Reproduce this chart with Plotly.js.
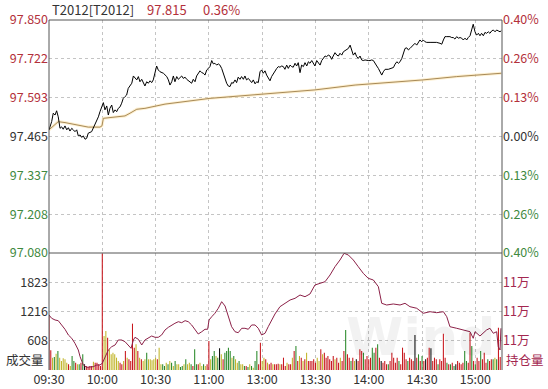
<!DOCTYPE html>
<html><head><meta charset="utf-8">
<script src="https://cdn.plot.ly/plotly-3.0.1.min.js"></script>
<style>html,body{margin:0;padding:0;background:#fff}#c{width:548px;height:389px}</style>
</head><body><div id="c"></div>
<script>
// ---- data ----
const symbol = 'T2012[T2012]';
const prevClose = 97.465;
const timeTickVals = [0,30,60,90,120,150,180,210,240];
const timeTickText = ['09:30','10:00','10:30','11:00','13:00','13:30','14:00','14:30','15:00'];
const priceTicks = [97.080,97.208,97.337,97.465,97.593,97.722,97.850];
const volTicks = [608,1216,1823];
const oiTicks = [113000,114000,115000];
const oiTickText = ['11万','11万','11万'];

const priceT = [0,1.5,2.4,3.4,4.3,5.2,6.2,7.1,8.0,9.0,
10.0,10.9,11.8,12.8,13.7,14.6,15.6,16.5,17.5,18.4,
19.3,20.3,21.2,22.1,24.0,24.9,25.9,26.9,27.8,28.7,
29.7,30.6,31.5,32.5,33.4,34.3,35.3,36.2,37.2,38.1,
39.0,40.0,40.9,41.8,42.8,43.7,44.6,45.6,46.6,47.5,
48.4,49.4,50.3,51.2,52.2,53.1,54.0,55.0,55.9,56.9,
57.8,58.7,59.7,60.6,61.5,62.5,64.4,66.3,67.2,68.1,
69.1,70.0,70.9,71.9,72.8,73.7,74.7,75.6,76.6,77.5,
79.4,80.3,81.2,82.2,83.1,84.0,85.0,86.0,86.9,87.8,
88.8,89.7,90.6,91.6,92.5,93.4,94.4,95.3,96.2,97.2,
98.1,99.1,100.0,100.9,101.9,102.8,103.7,104.7,105.6,106.5,
107.5,108.4,109.4,110.3,111.2,112.2,113.1,114.1,115.0,116.0,
116.9,117.8,118.8,119.7,120.6,121.6,122.5,123.4,124.4,125.3,
126.3,127.2,128.2,129.1,130.0,131.0,131.9,132.8,133.8,134.7,
135.7,136.6,137.5,138.5,139.4,140.3,141.3,142.2,143.2,144.1,
145.1,146.0,146.9,147.9,148.8,149.7,150.7,151.6,152.6,153.5,
154.4,155.4,156.3,157.2,158.2,159.1,160.0,161.0,162.0,162.9,
163.8,164.8,165.7,166.6,167.6,168.5,169.5,170.4,171.3,172.3,
173.2,174.1,175.1,176.0,176.9,177.9,178.8,179.7,180.7,181.7,
182.6,183.5,184.5,185.4,186.3,187.3,188.2,189.2,191.0,192.0,
193.9,194.8,195.8,196.7,197.6,198.6,199.5,200.4,201.4,202.3,
203.2,204.2,205.1,206.0,207.0,207.9,208.8,209.8,210.7,211.7,
212.6,214.5,216.3,218.2,220.1,221.1,222.0,222.9,223.9,225.7,
226.7,227.6,228.5,229.5,230.4,231.4,232.3,233.2,234.2,235.1,
236.0,237.0,237.9,238.8,239.8,240.7,241.7,242.6,243.5,244.5,
245.4,246.3,247.3,248.2,249.2,250.1,251.1,252.0,252.9,253.9,254.6];
const priceV = [97.487,97.514,97.542,97.536,97.550,97.530,97.492,97.497,97.489,97.500,
97.487,97.494,97.483,97.492,97.487,97.481,97.487,97.467,97.470,97.462,
97.467,97.456,97.459,97.476,97.481,97.492,97.503,97.514,97.530,97.547,
97.563,97.577,97.553,97.566,97.536,97.558,97.569,97.544,97.553,97.547,
97.558,97.563,97.575,97.591,97.597,97.602,97.624,97.635,97.641,97.665,
97.657,97.652,97.663,97.646,97.654,97.641,97.632,97.646,97.641,97.649,
97.643,97.652,97.679,97.698,97.685,97.679,97.674,97.663,97.652,97.635,
97.646,97.665,97.646,97.663,97.654,97.661,97.665,97.657,97.661,97.654,
97.646,97.641,97.654,97.646,97.665,97.674,97.682,97.676,97.674,97.668,
97.685,97.690,97.696,97.716,97.705,97.707,97.701,97.705,97.701,97.690,
97.674,97.652,97.641,97.632,97.630,97.643,97.641,97.652,97.643,97.661,
97.654,97.663,97.654,97.665,97.652,97.657,97.649,97.643,97.652,97.639,
97.646,97.643,97.679,97.685,97.674,97.682,97.668,97.657,97.649,97.663,
97.674,97.679,97.690,97.696,97.694,97.698,97.696,97.687,97.701,97.690,
97.701,97.696,97.694,97.707,97.698,97.709,97.676,97.701,97.696,97.709,
97.698,97.712,97.707,97.716,97.707,97.698,97.716,97.707,97.701,97.716,
97.723,97.731,97.729,97.734,97.731,97.720,97.731,97.742,97.734,97.731,
97.740,97.734,97.745,97.749,97.753,97.756,97.767,97.749,97.734,97.742,
97.729,97.723,97.731,97.718,97.716,97.718,97.716,97.716,97.716,97.718,
97.716,97.709,97.698,97.690,97.679,97.668,97.679,97.687,97.687,97.690,
97.693,97.704,97.712,97.707,97.712,97.723,97.743,97.756,97.758,97.751,
97.756,97.762,97.767,97.773,97.767,97.778,97.784,97.778,97.784,97.778,
97.776,97.776,97.776,97.776,97.773,97.770,97.784,97.795,97.795,97.795,
97.792,97.792,97.787,97.795,97.790,97.792,97.790,97.784,97.790,97.784,
97.792,97.798,97.817,97.836,97.811,97.800,97.806,97.798,97.806,97.798,
97.809,97.806,97.811,97.806,97.814,97.817,97.811,97.817,97.814,97.811,97.815];

const avgT = [0,5.2,9.0,16.5,22.1,28.7,29.8,30.6,35.3,42.8,45.6,49.4,54.0,59.7,65.3,90.6,118.8,149.7,172.3,210.5,229.5,240.7,254.6];
const avgV = [97.487,97.514,97.511,97.503,97.496,97.496,97.500,97.525,97.528,97.533,97.542,97.555,97.558,97.566,97.572,97.591,97.605,97.619,97.635,97.652,97.663,97.668,97.674];

const oiT = [0,1.5,3.4,5.2,7.1,9.0,10.9,12.8,14.6,16.5,
17.5,18.4,19.3,21.2,23.1,24.9,26.9,28.7,30.0,31.5,
33.4,35.3,37.2,39.0,40.9,42.8,44.6,46.2,47.5,48.4,
50.3,52.2,54.0,55.9,57.8,59.7,61.5,63.4,65.3,67.2,
69.1,70.9,72.8,74.7,76.6,78.4,80.3,82.2,84.0,86.0,
87.8,89.3,90.1,91.6,93.4,95.3,97.2,99.1,100.9,102.8,
104.7,106.5,108.5,110.3,112.2,114.1,116.0,117.8,119.7,121.6,
123.4,125.3,127.2,130.0,132.8,135.7,138.5,141.3,144.1,146.9,
149.7,152.6,155.4,158.2,161.0,163.8,166.1,168.5,171.3,174.1,
176.9,179.7,182.6,185.4,187.3,190.1,193.8,197.6,200.4,203.2,
207.0,210.7,214.5,218.2,222.0,223.9,225.7,229.5,233.2,237.0,
238.8,239.8,242.6,244.5,246.3,248.2,250.1,252.0,252.9,253.9,
254.4];
const oiV = [113880,113768,113710,113686,113539,113392,113197,113084,112913,112684,
112455,112284,112171,112092,112092,112113,112171,112171,112229,112455,
112684,112797,112855,113026,113026,112968,112855,112742,113026,113118,
113050,112855,113026,113084,113162,113118,113118,113197,113368,113460,
113539,113597,113651,113617,113686,113651,113539,113368,113231,113309,
113392,113392,113710,113822,113939,114110,114335,114188,113822,113480,
113309,113275,113426,113426,113392,113539,113539,113426,113197,113255,
113480,113686,113915,114164,114280,114393,114451,114564,114506,114598,
114906,114964,115019,115248,115532,115761,115990,115932,115761,115532,
115306,115135,115077,114848,114280,114222,114257,114222,114280,114164,
114110,113939,113993,113959,113993,113822,113480,113426,113368,113309,
113084,113309,113162,113255,113368,113426,113255,113309,112797,112684,
113426];

// per-minute volume, and trade kind: B = up (red), S = down (green), N = neutral (yellow), X = other (black)
const volume = [1150,409,256,270,340,395,256,187,243,222,
152,118,83,291,187,152,118,118,152,326,
118,83,62,83,83,173,152,152,118,83,
2420,707,811,672,430,326,360,326,256,187,
152,118,187,395,256,222,187,963,464,534,
395,256,222,187,222,360,222,222,201,222,
256,222,464,118,118,83,152,118,187,152,
83,187,118,118,62,83,118,222,118,152,
118,83,430,118,118,152,83,118,83,118,
603,222,291,395,291,256,450,326,222,360,
395,464,395,256,291,222,152,187,118,118,
83,83,62,118,83,49,187,395,118,568,
187,256,222,152,
118,152,118,118,118,132,118,118,256,83,
152,118,118,256,395,499,187,291,256,187,
222,360,187,187,187,222,152,256,187,430,
326,360,256,291,222,187,291,222,256,152,
256,187,395,832,326,256,187,256,187,222,
187,430,395,360,222,291,222,256,464,360,
464,534,256,187,152,187,118,118,187,360,
256,152,256,187,118,464,360,222,187,256,
222,187,727,256,326,187,291,187,222,256,
464,450,187,256,222,118,222,187,755,256,
152,118,118,152,83,118,187,152,118,152,
395,187,152,776,499,187,118,256,187,395,
222,360,152,222,187,222,222,256,222,880,270];
const tradeKind = ('BBNSNSNNNN'+'NBNSSBNSBS'+'XBBBBNBBBB'+'BNNBNNNNNN'+'BBNBNBBBBN'+
'BNBNNSNNNN'+'NBNNSSNSNS'+'NSNNSSNSNN'+'SBSSBNNSNB'+'BNSSNSXNBS'+'SSSNSNNSNN'+
'SBSNSNSSBB'+'NNBN'+
'BBNBBBNBBB'+'NBBNBSBNBN'+'BNBBBBBNNB'+'NBBBBBBNBB'+'NBBSBBSBNX'+'BBBSBBBBSS'+
'BSBXBBBSBB'+'BBBSBBBBSB'+'BBXBSBSBXB'+'BXBBBSBBBB'+'SBSBSXBBBB'+'SSBBSBSBBS'+
'BBBSBBSNSBB').split('');

// ---- drawing ----
const RED='#b3303a', GREEN='#3f8a3f', GRAY='#333333', OI='#a3274f';
const kindColor = {B:'#c8181e', S:'#2c8a2c', N:'#c2b62a', X:'#111111'};
const pct = v => Math.abs((v-prevClose)/prevClose*100).toFixed(2)+'%';
const sideOf = v => v>prevClose+1e-9 ? 'up' : (v<prevClose-1e-9 ? 'down' : 'flat');
const sideColor = {up:RED, down:GREEN, flat:GRAY};

const lastPrice = priceV[priceV.length-1];
const volIdx = volume.map((_,i)=>i);
const pRange = [priceTicks[0], priceTicks[priceTicks.length-1]];

const traces = [
  {type:'bar', x:volIdx, y:volume, xaxis:'x', yaxis:'y2', width:0.6,
   marker:{color:tradeKind.map(k=>kindColor[k]||kindColor.B), line:{width:0}}, hoverinfo:'skip'},
  {type:'scatter', mode:'lines', x:oiT, y:oiV, xaxis:'x', yaxis:'y4',
   line:{color:'#8c2148', width:1}, hoverinfo:'skip'},
  {type:'scatter', mode:'lines', x:avgT, y:avgV, xaxis:'x2', yaxis:'y',
   line:{color:'rgba(252,228,175,0.6)', width:3}, hoverinfo:'skip'},
  {type:'scatter', mode:'lines', x:avgT, y:avgV, xaxis:'x2', yaxis:'y',
   line:{color:'#a88a58', width:1}, hoverinfo:'skip'},
  {type:'scatter', mode:'lines', x:priceT, y:priceV, xaxis:'x2', yaxis:'y',
   line:{color:'#000000', width:1}, hoverinfo:'skip'}
];
// empty traces so the label-only axes get drawn
['y3','y5','y6','y7','y8'].forEach(ax=>traces.push({type:'scatter', mode:'lines', x:[], y:[], xaxis:'x2', yaxis:ax, hoverinfo:'skip'}));

const split = 117/350;
const grid = {showgrid:true, gridcolor:'#c4c4c4', griddash:'dot', gridwidth:1, zeroline:false, ticks:'', showline:false};
const FONT = '"Noto Sans CJK SC", "Open Sans", sans-serif';

// label-only overlay axes so each price tick label gets its own colour
function labelAxis(side, group, fmt){
  const vals = priceTicks.filter(v=>sideOf(v)===group);
  return {overlaying:'y', side:side, anchor:'x2', range:pRange, autorange:false, tickmode:'array',
    tickvals:vals, ticktext:vals.map(fmt), showgrid:false, zeroline:false, ticks:'', showline:false,
    tickfont:{size:12.5, color:sideColor[group]}};
}

const layout = {
  width:548, height:389,
  margin:{l:49, r:46, t:20, b:19, pad:0},
  paper_bgcolor:'#ffffff', plot_bgcolor:'#ffffff',
  showlegend:false,
  font:{family:FONT, size:12, color:GRAY},
  xaxis:Object.assign({}, grid, {domain:[0,1], anchor:'y2', range:[0,255], tickmode:'array',
    tickvals:timeTickVals, ticktext:timeTickText, tickfont:{size:12.5, color:GRAY}}),
  xaxis2:Object.assign({}, grid, {domain:[0,1], anchor:'y', range:[0,255], matches:'x', tickmode:'array',
    tickvals:timeTickVals, showticklabels:false}),
  yaxis:Object.assign({}, grid, {domain:[split,1], anchor:'x2', range:pRange,
    tickmode:'array', tickvals:priceTicks, ticktext:priceTicks.map(v=>sideOf(v)==='flat'?v.toFixed(3):''),
    tickfont:{size:12.5, color:GRAY}}),
  yaxis5:labelAxis('left','up', v=>v.toFixed(3)),
  yaxis6:labelAxis('left','down', v=>v.toFixed(3)),
  yaxis3:labelAxis('right','flat', pct),
  yaxis7:labelAxis('right','up', pct),
  yaxis8:labelAxis('right','down', pct),
  yaxis2:Object.assign({}, grid, {domain:[0,split], anchor:'x', range:[0,2431], tickmode:'array',
    tickvals:volTicks, ticktext:volTicks.map(String), tickfont:{size:12.5, color:GRAY}}),
  yaxis4:{overlaying:'y2', side:'right', anchor:'x', range:[112000,116000], tickmode:'array',
    tickvals:oiTicks, ticktext:oiTickText, showgrid:false, zeroline:false, ticks:'', showline:false,
    tickfont:{size:12.5, color:OI}},
  shapes:[
    {type:'line', xref:'paper', yref:'paper', x0:0, x1:1, y0:1, y1:1, line:{color:'#555', width:1}},
    {type:'line', xref:'paper', yref:'paper', x0:0, x1:1, y0:split, y1:split, line:{color:'#555', width:1}},
    {type:'line', xref:'paper', yref:'paper', x0:0, x1:0, y0:0, y1:1, line:{color:'#555', width:1}},
    {type:'line', xref:'paper', yref:'paper', x0:1, x1:1, y0:0, y1:1, line:{color:'#555', width:1}}
  ],
  annotations:[
    {text:'Wind', xref:'paper', yref:'paper', x:0.82, y:0.095, xanchor:'center', yanchor:'middle', showarrow:false,
     font:{family:'DejaVu Sans', size:52, color:'rgba(0,0,0,0.05)', weight:'bold'}},
    {text:symbol, xref:'paper', yref:'paper', x:0.002, y:1.03, xanchor:'left', yanchor:'middle', showarrow:false,
     font:{size:13, color:GRAY}},
    {text:lastPrice.toFixed(3), xref:'paper', yref:'paper', x:0.212, y:1.03, xanchor:'left', yanchor:'middle', showarrow:false,
     font:{size:13, color:RED}},
    {text:pct(lastPrice), xref:'paper', yref:'paper', x:0.336, y:1.03, xanchor:'left', yanchor:'middle', showarrow:false,
     font:{size:13, color:RED}},
    {text:'成交量', xref:'paper', yref:'y2', x:0, y:0, xanchor:'right', yanchor:'bottom', xshift:-3, yshift:-1, showarrow:false,
     font:{size:12.5, color:GRAY}},
    {text:'持仓量', xref:'paper', yref:'y2', x:1, y:0, xanchor:'left', yanchor:'bottom', xshift:2, yshift:-1, showarrow:false,
     font:{size:12.5, color:OI}}
  ]
};

Plotly.newPlot('c', traces, layout, {staticPlot:true, displayModeBar:false});
</script>
</body></html>
